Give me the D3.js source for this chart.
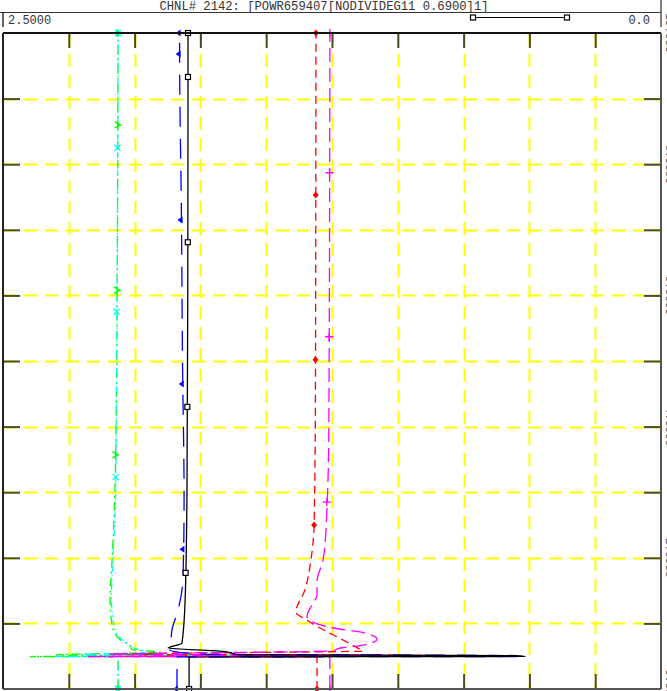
<!DOCTYPE html>
<html><head><meta charset="utf-8">
<script src="https://cdn.jsdelivr.net/npm/d3@7"></script>
<style>html,body{margin:0;padding:0;background:#fff;overflow:hidden}svg{display:block}</style>
</head><body>
<svg id="c" width="667" height="691"></svg>
<script>
// ---- data ----
const title = "CHNL# 2142: [POWR659407[NODIVIDEG11 0.6900]1]";
const valueMin = 0.0, valueMax = 2.5;
const valueLabelLeft = "2.5000", valueLabelRight = "0.0";
const timeMin = 0, timeMax = 10;
const valueGrid = [2.25, 2.0, 1.75, 1.5, 1.25, 1.0, 0.75, 0.5, 0.25];
const timeGrid = [1, 2, 3, 4, 5, 6, 7, 8, 9];
const timeLabels = ["0.0000", "2.0000", "4.0000", "6.0000", "8.0000", "10.000"];
const timeLabelAt = [0, 2, 4, 6, 8, 10];

const blackT = [0, 0.49, 0.495, 0.51, 0.52, 0.575, 0.625, 0.70, 1.36, 3.0, 6.0, 10];
const blackV = [1.793, 1.793, 0.515, 0.55, 1.60, 1.664, 1.873, 1.820, 1.808, 1.801, 1.798, 1.797];
const blackM = [0, 1.77, 4.30, 6.81, 9.33, 10];

const blueT = [0, 0.49, 0.495, 0.51, 0.53, 0.60, 0.75, 0.90, 1.2, 1.7, 2.9, 5.0, 7.2, 9.7, 10];
const blueV = [1.839, 1.839, 0.54, 0.60, 1.75, 1.866, 1.862, 1.858, 1.835, 1.816, 1.812, 1.818, 1.822, 1.829, 1.829];
const blueM = [0, 2.13, 4.65, 7.15, 9.68, 10];

const greenT = [0, 0.49, 0.495, 0.50, 0.52, 0.56, 0.60, 0.67, 0.75, 0.98, 1.36, 2.0, 3.0, 5.0, 10];
const greenV = [2.063, 2.063, 2.397, 1.2, 2.3, 1.9, 2.01, 2.017, 2.055, 2.086, 2.093, 2.085, 2.075, 2.068, 2.063];
const greenM = [0, 3.57, 6.08, 8.60, 10];

const cyanT = [0, 0.49, 0.495, 0.50, 0.52, 0.56, 0.62, 0.70, 0.80, 1.0, 1.4, 2.0, 3.0, 10];
const cyanV = [2.063, 2.063, 2.30, 1.0, 2.2, 1.95, 2.0, 2.03, 2.06, 2.08, 2.088, 2.082, 2.072, 2.063];
const cyanM = [0, 3.23, 5.75, 8.25, 10];

const redT = [0, 0.49, 0.495, 0.51, 0.53, 0.58, 0.62, 0.747, 0.93, 1.05, 1.17, 1.51, 1.97, 2.5, 4.4, 10];
const redV = [1.307, 1.307, 2.10, 0.90, 2.05, 1.132, 1.15, 1.208, 1.296, 1.345, 1.387, 1.353, 1.330, 1.318, 1.313, 1.311];
const redM = [0, 2.5, 5.02, 7.53, 10];

const magT = [0, 0.49, 0.495, 0.51, 0.53, 0.58, 0.625, 0.66, 0.76, 0.87, 0.93, 1.10, 1.31, 1.43, 1.63, 1.97, 2.5, 4.0, 10];
const magV = [1.258, 1.258, 2.18, 1.0, 2.1, 1.25, 1.218, 1.144, 1.079, 1.144, 1.246, 1.345, 1.322, 1.307, 1.307, 1.284, 1.272, 1.262, 1.258];
const magM = [0, 2.85, 5.37, 7.87, 10];

// ---- drawing ----
const svg = d3.select("#c");
const L = 3, R = 661, T = 33, B = 689;
const x = d3.scaleLinear().domain([valueMax, valueMin]).range([L, R]);
const y = d3.scaleLinear().domain([timeMin, timeMax]).range([B, T]);
const font = "'Liberation Mono', 'DejaVu Sans Mono', monospace";

// header
svg.append("text").attr("x", 324).attr("y", 10).attr("text-anchor", "middle")
  .attr("font-family", font).attr("font-size", 12.2).attr("fill", "#333").text(title);
svg.append("line").attr("x1", 0).attr("x2", R).attr("y1", 12.5).attr("y2", 12.5).attr("stroke", "#333").attr("stroke-width", 1);
svg.append("line").attr("x1", L).attr("x2", L).attr("y1", 12.5).attr("y2", 27).attr("stroke", "#333").attr("stroke-width", 1.5);
svg.append("line").attr("x1", R).attr("x2", R).attr("y1", 0).attr("y2", 27).attr("stroke", "#555").attr("stroke-width", 1.5);
svg.append("text").attr("x", 8).attr("y", 24).attr("font-family", font).attr("font-size", 12).attr("fill", "#333").text(valueLabelLeft);
svg.append("text").attr("x", 650).attr("y", 24).attr("text-anchor", "end").attr("font-family", font).attr("font-size", 12).attr("fill", "#333").text(valueLabelRight);
// legend
svg.append("line").attr("x1", 473).attr("x2", 567).attr("y1", 17.5).attr("y2", 17.5).attr("stroke", "#000").attr("stroke-width", 1.2);
[473, 567].forEach(px => svg.append("rect").attr("x", px - 2.5).attr("y", 15).attr("width", 5).attr("height", 5)
  .attr("fill", "#fff").attr("stroke", "#000").attr("stroke-width", 1.2));

// grid
const g = svg.append("g");
g.selectAll(".vg").data(valueGrid).join("line").attr("x1", d => Math.round(x(d)) + 0.5).attr("x2", d => Math.round(x(d)) + 0.5)
  .attr("y1", T).attr("y2", B).attr("stroke", "#ffff00").attr("stroke-width", 2).attr("stroke-dasharray", "13,8");
g.selectAll(".hg").data(timeGrid).join("line").attr("y1", d => Math.round(y(d)) + 0.5).attr("y2", d => Math.round(y(d)) + 0.5)
  .attr("x1", L).attr("x2", R).attr("stroke", "#ffff00").attr("stroke-width", 2).attr("stroke-dasharray", "13,8");

// ticks via axes
const tickCol = "#4d4d1f";
function styleAxis(sel) {
  sel.select(".domain").remove();
  sel.selectAll(".tick line").attr("stroke", tickCol).attr("stroke-width", 2);
  sel.selectAll(".tick text").remove();
}
svg.append("g").attr("transform", `translate(0,${T})`).call(d3.axisTop(x).tickValues(valueGrid).tickSize(-15).tickFormat("")).call(styleAxis);
svg.append("g").attr("transform", `translate(0,${B})`).call(d3.axisBottom(x).tickValues(valueGrid).tickSize(-15).tickFormat("")).call(styleAxis);
svg.append("g").attr("transform", `translate(${L},0)`).call(d3.axisLeft(y).tickValues(timeGrid).tickSize(-17).tickFormat("")).call(styleAxis);
svg.append("g").attr("transform", `translate(${R},0)`).call(d3.axisRight(y).tickValues(timeGrid).tickSize(-17).tickFormat("")).call(styleAxis);

// curves
svg.append("clipPath").attr("id", "pc").append("rect").attr("x", L).attr("y", T - 4).attr("width", R - L).attr("height", B - T + 8);
const plot = svg.append("g").attr("clip-path", "url(#pc)");
const lineGen = d3.line().x(d => x(d.v)).y(d => y(d.t)).curve(d3.curveMonotoneY);

function interp(ts, vs, t) {
  for (let i = 1; i < ts.length; i++) {
    if (t <= ts[i]) { const f = (t - ts[i - 1]) / (ts[i] - ts[i - 1]); return vs[i - 1] + f * (vs[i] - vs[i - 1]); }
  }
  return vs[vs.length - 1];
}
const series = [
  {t: greenT, v: greenV, m: greenM, color: "#00ff00", dash: "9,4,2,4", shape: "chev"},
  {t: cyanT, v: cyanV, m: cyanM, color: "#00ffff", dash: "6,3,1.5,3,1.5,3", shape: "x"},
  {t: redT, v: redV, m: redM, color: "#ff0000", dash: "8,5", shape: "diamond"},
  {t: magT, v: magV, m: magM, color: "#ff00ff", dash: "14,6", shape: "plus"},
  {t: blueT, v: blueV, m: blueM, color: "#0000ff", dash: "20,12", shape: "tri"},
  {t: blackT, v: blackV, m: blackM, color: "#000000", dash: null, shape: "square"}
];
series.forEach(s => {
  const pts = s.t.map((t, i) => ({t, v: s.v[i]}));
  plot.append("path").datum(pts).attr("d", lineGen).attr("fill", "none").attr("stroke", s.color)
    .attr("stroke-width", 1.3).attr("stroke-dasharray", s.dash);
});
// markers
series.forEach(s => {
  s.m.forEach(t => {
    const px = x(interp(s.t, s.v, t)), py = y(t);
    const gm = svg.append("g").attr("transform", `translate(${px},${py})`);
    if (s.shape === "square") gm.append("rect").attr("x", -2.5).attr("y", -2.5).attr("width", 5).attr("height", 5).attr("fill", "#fff").attr("stroke", s.color).attr("stroke-width", 1.2);
    else if (s.shape === "tri") gm.append("path").attr("d", "M-4,0L1,-3.5L1,3.5Z").attr("fill", s.color);
    else if (s.shape === "diamond") gm.append("path").attr("d", "M0,-3.5L3,0L0,3.5L-3,0Z").attr("fill", s.color);
    else if (s.shape === "plus") gm.append("path").attr("d", "M-4,0H4M0,-4V4").attr("stroke", s.color).attr("stroke-width", 1.3);
    else if (s.shape === "x") gm.append("path").attr("d", "M-3,-3L3,3M-3,3L3,-3").attr("stroke", s.color).attr("stroke-width", 1.3);
    else if (s.shape === "chev") gm.append("path").attr("d", "M-3,-3L3,0L-3,3M0,-4V4").attr("fill", "none").attr("stroke", s.color).attr("stroke-width", 1.3);
  });
});

// frame
svg.append("line").attr("x1", L).attr("x2", R).attr("y1", T).attr("y2", T).attr("stroke", "#111").attr("stroke-width", 2);
svg.append("line").attr("x1", L).attr("x2", L).attr("y1", T).attr("y2", B).attr("stroke", "#222").attr("stroke-width", 2);
svg.append("line").attr("x1", L).attr("x2", R).attr("y1", B).attr("y2", B).attr("stroke", "#555").attr("stroke-width", 2);
svg.append("line").attr("x1", R).attr("x2", R).attr("y1", T).attr("y2", B).attr("stroke", "#555").attr("stroke-width", 2);

// rotated time labels at right edge (clipped by the window, as in the original)
svg.selectAll(".tl").data(timeLabelAt).join("text")
  .attr("transform", d => `translate(665.5,${y(d)}) rotate(90)`)
  .attr("text-anchor", "middle").attr("font-family", font).attr("font-size", 11).attr("fill", "#444")
  .text((d, i) => timeLabels[i]);
</script>
</body></html>
